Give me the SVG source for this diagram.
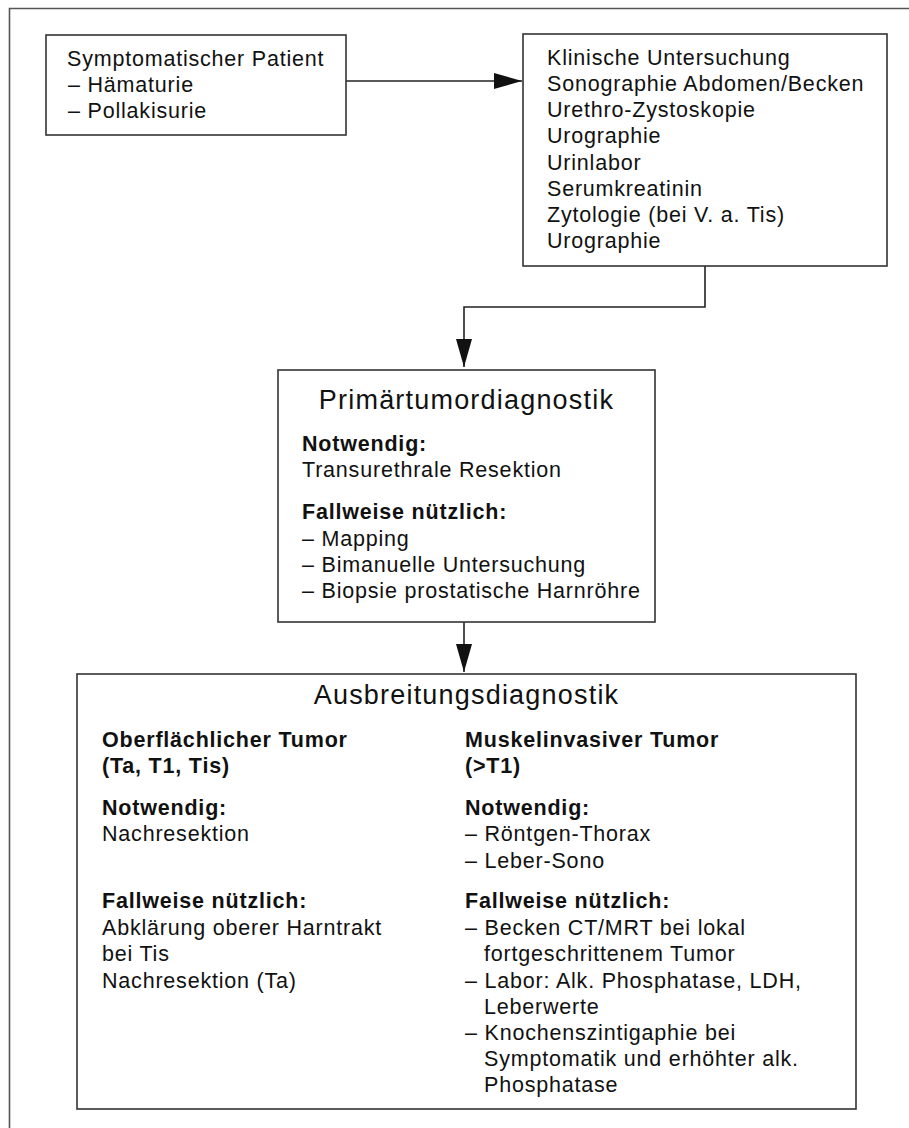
<svg xmlns="http://www.w3.org/2000/svg" width="909" height="1128" viewBox="0 0 909 1128">
<style>
  .box { fill: #ffffff; stroke: #333333; stroke-width: 1.6; }
  .frame { fill: none; stroke: #555555; stroke-width: 1.6; }
  .conn { fill: none; stroke: #222222; stroke-width: 1.6; }
  text { font-family: "Liberation Sans", Arial, sans-serif; fill: #111111; font-size: 21.5px; letter-spacing: 0.8px; }
  .b { font-weight: bold; }
  .title { font-size: 27px; letter-spacing: 1.2px; text-anchor: middle; }
</style>
<defs>
  <marker id="arrow" viewBox="0 0 28 16" refX="28" refY="8" markerWidth="28" markerHeight="16" markerUnits="userSpaceOnUse" orient="auto">
    <path d="M0,0 L28,8 L0,16 Z" fill="#111111"/>
  </marker>
</defs>
<rect width="909" height="1128" fill="#ffffff"/>
<path class="frame" d="M9.5,1128 V8.5 H909"/>

<g id="connectors">
  <path class="conn" d="M346,81 H522" marker-end="url(#arrow)"/>
  <path class="conn" d="M705,266 V307 H464 V367" marker-end="url(#arrow)"/>
  <path class="conn" d="M464,622 V672" marker-end="url(#arrow)"/>
</g>

<g id="patient">
  <rect class="box" x="46" y="35" width="300" height="100"/>
  <text x="67" y="66">Symptomatischer Patient</text>
  <text x="68" y="92">– Hämaturie</text>
  <text x="68" y="118">– Pollakisurie</text>
</g>

<g id="untersuchung">
  <rect class="box" x="523" y="34" width="364" height="232"/>
  <text x="547" y="65">Klinische Untersuchung</text>
  <text x="547" y="91">Sonographie Abdomen/Becken</text>
  <text x="547" y="117">Urethro-Zystoskopie</text>
  <text x="547" y="143">Urographie</text>
  <text x="547" y="170">Urinlabor</text>
  <text x="547" y="196">Serumkreatinin</text>
  <text x="547" y="222">Zytologie (bei V. a. Tis)</text>
  <text x="547" y="248">Urographie</text>
</g>

<g id="primaer">
  <rect class="box" x="278" y="370" width="377" height="252"/>
  <text class="title" x="466.5" y="409">Primärtumordiagnostik</text>
  <text class="b" x="302" y="451">Notwendig:</text>
  <text x="302" y="477">Transurethrale Resektion</text>
  <text class="b" x="302" y="519">Fallweise nützlich:</text>
  <text x="302" y="546">– Mapping</text>
  <text x="302" y="572">– Bimanuelle Untersuchung</text>
  <text x="302" y="598">– Biopsie prostatische Harnröhre</text>
</g>

<g id="ausbreitung">
  <rect class="box" x="77" y="674" width="779" height="435"/>
  <text class="title" x="466.5" y="704">Ausbreitungsdiagnostik</text>
  <text class="b" x="102" y="747">Oberflächlicher Tumor</text>
  <text class="b" x="102" y="773">(Ta, T1, Tis)</text>
  <text class="b" x="102" y="815">Notwendig:</text>
  <text x="102" y="841">Nachresektion</text>
  <text class="b" x="102" y="908">Fallweise nützlich:</text>
  <text x="102" y="935">Abklärung oberer Harntrakt</text>
  <text x="102" y="961">bei Tis</text>
  <text x="102" y="988">Nachresektion (Ta)</text>

  <text class="b" x="465" y="747">Muskelinvasiver Tumor</text>
  <text class="b" x="465" y="773">(&gt;T1)</text>
  <text class="b" x="465" y="815">Notwendig:</text>
  <text x="465" y="841">– Röntgen-Thorax</text>
  <text x="465" y="868">– Leber-Sono</text>
  <text class="b" x="465" y="908">Fallweise nützlich:</text>
  <text x="465" y="935">– Becken CT/MRT bei lokal</text>
  <text x="484" y="961">fortgeschrittenem Tumor</text>
  <text x="465" y="988">– Labor: Alk. Phosphatase, LDH,</text>
  <text x="484" y="1014">Leberwerte</text>
  <text x="465" y="1040">– Knochenszintigaphie bei</text>
  <text x="484" y="1066">Symptomatik und erhöhter alk.</text>
  <text x="484" y="1092">Phosphatase</text>
</g>
</svg>
